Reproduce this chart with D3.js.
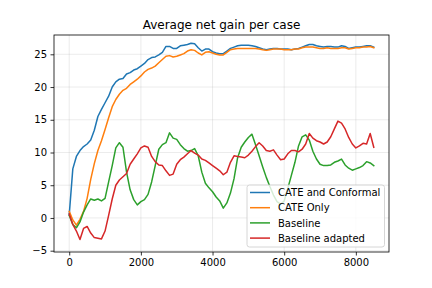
<!DOCTYPE html>
<html>
<head>
<meta charset="utf-8">
<script src="https://cdn.jsdelivr.net/npm/d3@7"></script>
<style>
  body { margin: 0; background: #fff; }
  svg text { font-family: "DejaVu Sans", sans-serif; }
</style>
</head>
<body>
<div id="chart"></div>
<script>
// case counts, one sample every 100 cases
var steps = d3.range(0, 8600, 100);

var cateConformal = [0.5, 7.5, 9.4, 10.3, 10.9, 11.3, 11.9, 13.4, 15.5, 16.6,
  17.6, 18.6, 20.0, 20.8, 21.2, 21.3, 22.0, 22.2, 22.6, 22.8,
  23.2, 23.6, 24.2, 24.5, 24.6, 24.9, 25.3, 26.2, 26.2, 25.9,
  25.9, 26.3, 26.4, 26.5, 26.7, 26.6, 26.0, 25.5, 25.8, 25.8,
  25.4, 25.2, 25.1, 25.1, 25.5, 25.9, 26.1, 26.3, 26.4, 26.4,
  26.4, 26.3, 26.2, 26.0, 25.8, 25.7, 25.8, 25.9, 25.9, 25.8,
  25.8, 25.8, 25.7, 25.8, 25.9, 26.1, 26.3, 26.5, 26.5, 26.3,
  26.2, 26.1, 26.2, 26.2, 26.1, 26.1, 26.3, 26.2, 25.9, 26.0,
  26.1, 26.1, 26.2, 26.3, 26.3, 26.1];

var cateOnly = [1.0, -0.3, -1.1, -0.2, 1.0, 3.0, 5.9, 8.3, 10.3, 11.8,
  13.5, 15.3, 17.0, 18.1, 18.9, 19.5, 19.8, 20.4, 20.8, 21.2,
  21.7, 22.3, 22.7, 22.9, 23.2, 23.7, 24.2, 24.7, 24.8, 24.6,
  24.7, 24.9, 25.1, 25.5, 25.7, 25.6, 25.2, 24.9, 25.3, 25.4,
  25.2, 25.0, 24.9, 24.9, 25.3, 25.7, 25.8, 25.9, 25.9, 25.9,
  25.9, 25.9, 25.9, 25.8, 25.7, 25.6, 25.7, 25.8, 25.8, 25.8,
  25.7, 25.7, 25.7, 25.8, 25.8, 26.0, 26.1, 26.1, 26.1, 26.0,
  25.9, 25.9, 26.0, 25.9, 25.9, 25.9, 26.0, 26.0, 25.8, 25.9,
  26.0, 26.0, 26.1, 26.1, 26.2, 26.0];

var baseline = [0.4, -1.0, -1.5, -0.6, 0.9, 2.0, 2.9, 2.7, 2.9, 2.6,
  3.0, 5.5, 8.0, 10.7, 11.5, 10.8, 7.0, 4.3, 2.8, 2.0,
  2.5, 2.8, 3.6, 5.5, 8.0, 10.5, 11.2, 11.5, 13.0, 12.2,
  12.0, 11.2, 10.6, 10.2, 10.3, 10.6, 9.5, 7.0, 5.3, 4.6,
  4.0, 3.2, 2.6, 1.5, 2.3, 3.8, 6.0, 9.2, 10.8, 11.6,
  12.3, 12.8, 11.2, 9.5, 7.8, 6.2, 4.8, 3.5, 2.5, 2.1,
  2.6, 4.5, 6.5, 8.5, 11.0, 12.4, 12.7, 11.9, 10.2, 9.0,
  8.2, 8.0, 8.0, 8.1, 8.5, 8.7, 9.0, 8.1, 7.6, 7.3,
  7.5, 7.7, 8.0, 8.6, 8.4, 8.0];

var baselineAdapted = [0.6, -1.0, -2.0, -3.3, -1.6, -1.3, -2.3, -3.0, -3.1, -3.2,
  -2.0, 0.4, 2.9, 5.0, 5.8, 6.3, 6.8, 8.2, 9.0, 9.8,
  10.7, 11.0, 10.8, 9.4, 8.6, 8.1, 8.0, 7.2, 6.5, 6.7,
  8.2, 8.9, 9.3, 9.8, 10.3, 9.9, 9.6, 9.0, 8.8, 8.4,
  8.0, 7.6, 7.2, 6.6, 7.0, 8.5, 9.5, 9.4, 9.3, 9.2,
  9.6, 10.2, 10.9, 11.5, 11.0, 10.3, 10.2, 10.4, 9.6, 8.9,
  9.0, 9.8, 10.3, 10.3, 10.1, 10.5, 11.3, 12.9, 12.2, 11.8,
  11.6, 11.3, 11.6, 12.4, 13.6, 14.8, 14.5, 13.6, 12.3, 11.3,
  10.7, 11.0, 11.4, 11.3, 12.9, 10.8];

var seriesNames = ["CATE and Conformal", "CATE Only", "Baseline", "Baseline adapted"];
var seriesValues = [cateConformal, cateOnly, baseline, baselineAdapted];
var seriesColors = ["#1f77b4", "#ff7f0e", "#2ca02c", "#d62728"];

var xTicks = [0, 2000, 4000, 6000, 8000];
var yTicks = [-5, 0, 5, 10, 15, 20, 25];

var outerWidth = 432, outerHeight = 288;
var margin = {top: 35, right: 43, bottom: 36, left: 54};
var innerWidth = outerWidth - margin.left - margin.right;
var innerHeight = outerHeight - margin.top - margin.bottom;

var svg = d3.select("#chart").append("svg")
  .attr("width", outerWidth)
  .attr("height", outerHeight);

var g = svg.append("g")
  .attr("transform", "translate(" + margin.left + "," + margin.top + ")");

// matplotlib style 5% padding on both scales
var xScale = d3.scaleLinear().domain([-425, 8925]).range([0, innerWidth]);
var yScale = d3.scaleLinear().domain([-5.2, 27.95]).range([innerHeight, 0]);

// grid
g.append("g").selectAll("line").data(xTicks).enter().append("line")
  .attr("x1", function(d) { return xScale(d); })
  .attr("x2", function(d) { return xScale(d); })
  .attr("y1", 0).attr("y2", innerHeight)
  .attr("stroke", "#b0b0b0").attr("stroke-opacity", 0.3).attr("stroke-width", 0.8);

g.append("g").selectAll("line").data(yTicks).enter().append("line")
  .attr("x1", 0).attr("x2", innerWidth)
  .attr("y1", function(d) { return yScale(d); })
  .attr("y2", function(d) { return yScale(d); })
  .attr("stroke", "#b0b0b0").attr("stroke-opacity", 0.3).attr("stroke-width", 0.8);

// axes
var xAxis = d3.axisBottom(xScale).tickValues(xTicks).tickSize(3.5).tickPadding(3.5)
  .tickFormat(d3.format("d"));
var yAxis = d3.axisLeft(yScale).tickValues(yTicks).tickSize(3.5).tickPadding(3.5)
  .tickFormat(function(d) { return d < 0 ? "\u2212" + Math.abs(d) : d; });

var gx = g.append("g")
  .attr("transform", "translate(0," + innerHeight + ")")
  .call(xAxis);
var gy = g.append("g").call(yAxis);

[gx, gy].forEach(function(a) {
  a.select(".domain").remove();
  a.selectAll(".tick line").attr("stroke", "#000").attr("stroke-width", 0.8);
  a.selectAll(".tick text").attr("fill", "#000").style("font-size", "10px")
    .style("font-family", "'DejaVu Sans', sans-serif");
});

// lines
var line = d3.line()
  .x(function(d, i) { return xScale(steps[i]); })
  .y(function(d) { return yScale(d); });

seriesValues.forEach(function(vals, k) {
  g.append("path")
    .datum(vals)
    .attr("fill", "none")
    .attr("stroke", seriesColors[k])
    .attr("stroke-width", 1.5)
    .attr("stroke-linejoin", "round")
    .attr("stroke-linecap", "square")
    .attr("d", line);
});

// frame
g.append("rect")
  .attr("width", innerWidth).attr("height", innerHeight)
  .attr("fill", "none").attr("stroke", "#000").attr("stroke-width", 0.8);

// title
svg.append("text")
  .attr("x", margin.left + innerWidth / 2)
  .attr("y", margin.top - 6)
  .attr("text-anchor", "middle")
  .style("font-size", "12px")
  .text("Average net gain per case");

// legend
var legend = g.append("g")
  .attr("transform", "translate(" + (innerWidth - 142) + "," + (innerHeight - 67) + ")");

legend.append("rect")
  .attr("width", 137.5).attr("height", 62)
  .attr("rx", 2.5)
  .attr("fill", "#fff").attr("fill-opacity", 0.8)
  .attr("stroke", "#cccccc").attr("stroke-width", 0.8);

seriesNames.forEach(function(name, k) {
  var y = 7.5 + k * 15.2;
  legend.append("line")
    .attr("x1", 3).attr("x2", 23)
    .attr("y1", y).attr("y2", y)
    .attr("stroke", seriesColors[k]).attr("stroke-width", 1.5);
  legend.append("text")
    .attr("x", 31).attr("y", y + 3.6)
    .style("font-size", "10px")
    .text(name);
});
</script>
</body>
</html>
